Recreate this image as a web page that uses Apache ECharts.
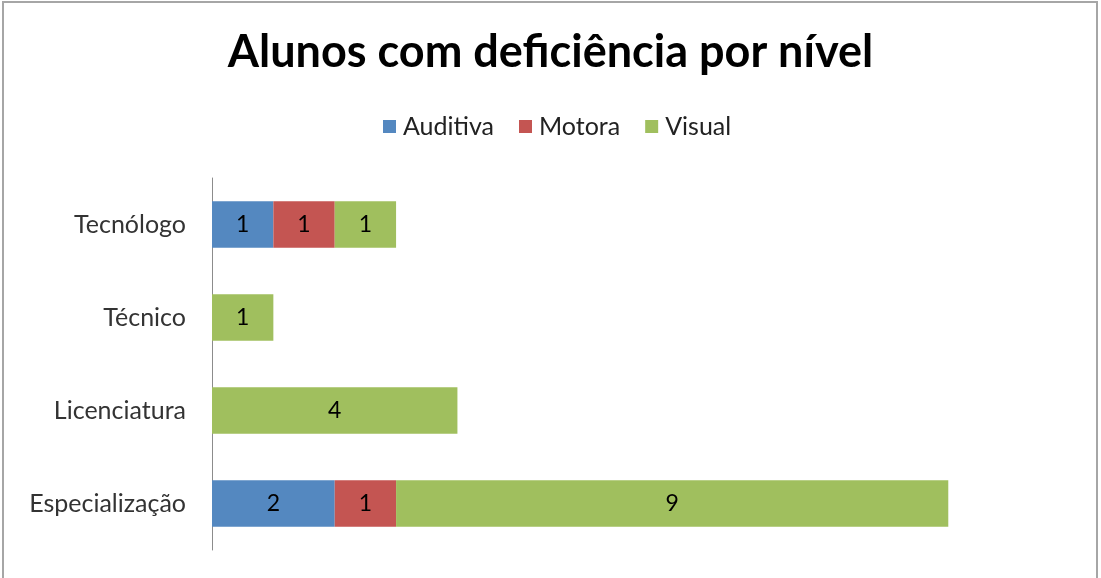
<!DOCTYPE html>
<html>
<head>
<meta charset="utf-8">
<script src="https://cdn.jsdelivr.net/npm/echarts@6/dist/echarts.min.js"></script>
<style>
  html, body { margin: 0; padding: 0; background: #fff; overflow: hidden; }
  #frame {
    position: absolute; left: 2px; top: 1px; width: 1096px; height: 600px;
    border: 2px solid #a6a6a6; box-sizing: border-box;
  }
  #chart { position: absolute; left: 0; top: 0; width: 1101px; height: 578px; }
</style>
</head>
<body>
<div id="frame"></div>
<div id="chart"></div>
<script>
// categories, bottom to top as in the picture
var niveis = ['Especialização', 'Licenciatura', 'Técnico', 'Tecnólogo']
var auditiva = [2, 0, 0, 1]
var motora = [1, 0, 0, 1]
var visual = [9, 4, 1, 1]

var cores = ['#5488c0', '#c45552', '#a0bf5e']

function rotulo(p) {
  return p.value ? p.value : ''
}

function serie(nome, dados, cor) {
  return {
    name: nome,
    type: 'bar',
    stack: 'total',
    data: dados,
    barCategoryGap: '50%',
    itemStyle: { color: cor },
    label: {
      show: true,
      position: 'inside',
      color: '#000',
      fontFamily: 'Lato',
      fontSize: 23,
      formatter: rotulo
    },
    emphasis: { disabled: true }
  }
}

var chart = echarts.init(document.getElementById('chart'))
chart.setOption({
  animation: false,
  title: {
    text: 'Alunos com deficiência por nível',
    left: 'center',
    top: 25,
    textStyle: { fontFamily: 'Lato', fontWeight: 'bold', fontSize: 45, color: '#000' }
  },
  legend: {
    top: 109,
    left: 378,
    itemWidth: 13,
    itemHeight: 13,
    itemGap: 25,
    icon: 'rect',
    textStyle: { fontFamily: 'Lato', fontSize: 25, color: '#222', padding: [0, 0, 0, 2] },
    data: ['Auditiva', 'Motora', 'Visual']
  },
  grid: {
    left: 212,
    right: 30,
    top: 178,
    bottom: 28,
    containLabel: false
  },
  xAxis: {
    type: 'value',
    min: 0,
    max: 14,
    show: false
  },
  yAxis: {
    type: 'category',
    data: niveis,
    axisLine: { show: true, lineStyle: { color: '#8c8c8c', width: 1 } },
    axisTick: { show: false },
    axisLabel: { fontFamily: 'Lato', fontSize: 25, color: '#333', margin: 26 }
  },
  series: [
    serie('Auditiva', auditiva, cores[0]),
    serie('Motora', motora, cores[1]),
    serie('Visual', visual, cores[2])
  ]
})
</script>
</body>
</html>
